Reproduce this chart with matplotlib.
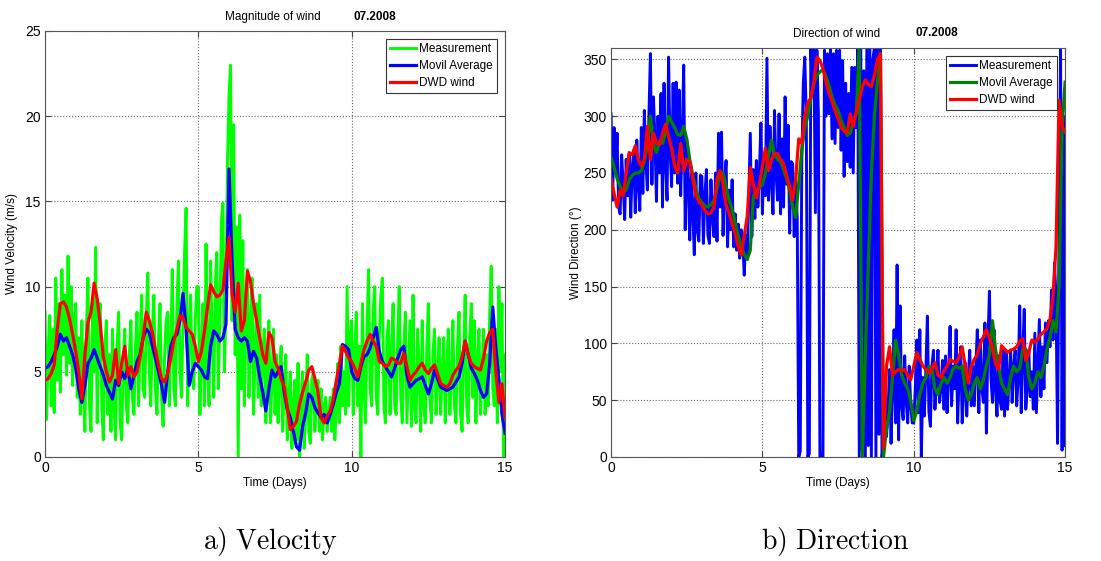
import numpy as np
import matplotlib.pyplot as plt

plt.rcParams['font.family'] = ['Liberation Sans', 'DejaVu Sans']
plt.rcParams['mathtext.fontset'] = 'cm'

# time axes: measurements every 0.05 day, averages every 0.1 day
t_meas = np.linspace(0, 15, 301)
t = np.linspace(0, 15, 151)

# ---------------- velocity (m/s) ----------------
vel_meas = [8.5, 2.2, 6.0, 8.3, 3.0, 7.5, 2.6, 10.5, 4.5, 9.0, 3.8, 11.0, 6.0, 9.5, 4.8, 11.8, 5.5, 10.0, 4.2, 8.0,
            9.0, 3.5, 7.0, 2.5, 8.0, 4.0, 1.5, 7.5, 10.5, 3.0, 1.5, 9.0, 5.0, 12.3, 2.0, 8.0, 9.0, 3.0, 1.0, 6.5,
            8.0, 2.5, 6.0, 1.5, 7.5, 3.0, 1.0, 6.5, 8.5, 2.0, 1.0, 5.5, 7.5, 3.0, 2.0, 6.0, 8.0, 3.5, 2.5, 6.5,
            8.5, 3.0, 6.5, 9.5, 4.0, 3.5, 8.0, 10.8, 5.0, 3.0, 7.5, 9.5, 4.0, 2.5, 7.0, 9.0, 3.5, 1.8, 6.0, 8.0,
            8.5, 3.0, 6.5, 11.0, 4.0, 3.0, 9.0, 11.5, 5.0, 3.5, 8.0, 12.0, 14.6, 3.0, 7.0, 9.5, 4.5, 4.0, 8.0, 10.0,
            10.0, 2.5, 6.0, 9.0, 3.0, 12.5, 5.0, 3.0, 11.5, 7.0, 3.5, 10.0, 12.0, 4.0, 8.0, 13.8, 14.9, 5.0, 9.0, 17.5,
            21.2, 23.0, 8.0, 19.5, 6.0, 13.5, 0.0, 14.2, 4.0, 12.7, 3.0, 8.0, 11.0, 3.5, 7.5, 10.5, 2.5, 6.0, 9.0, 3.5,
            9.5, 3.0, 6.0, 7.5, 2.0, 5.5, 8.0, 2.0, 4.5, 7.5, 2.5, 6.0, 2.0, 5.0, 6.5, 1.5, 4.0, 6.0, 1.0, 3.5,
            5.0, 0.5, 3.0, 4.5, 1.0, 5.5, 0.0, 3.0, 5.0, 0.5, 2.5, 6.0, 1.5, 0.8, 4.5, 5.0, 1.5, 3.5, 4.5, 1.5,
            4.0, 1.0, 3.0, 3.5, 1.5, 2.5, 3.5, 1.5, 4.0, 1.0, 3.0, 5.5, 2.0, 6.5, 3.0, 5.0, 2.5, 10.0, 3.0, 7.0,
            8.0, 2.5, 6.0, 8.5, 3.0, 6.5, 0.0, 9.0, 4.0, 2.0, 7.5, 11.0, 4.0, 3.0, 8.5, 10.0, 3.5, 2.5, 7.0, 9.5,
            10.5, 3.0, 2.0, 7.0, 8.0, 2.5, 6.0, 9.0, 3.0, 2.5, 7.0, 10.0, 3.5, 2.0, 6.5, 8.5, 2.0, 5.0, 8.0, 1.8,
            9.5, 3.0, 2.0, 7.5, 5.0, 1.5, 8.0, 3.0, 2.0, 6.5, 9.0, 3.5, 2.0, 6.0, 7.5, 2.5, 4.5, 7.0, 2.5, 5.0,
            7.0, 2.0, 5.0, 7.5, 2.5, 4.5, 8.0, 3.0, 2.0, 6.5, 8.5, 2.5, 1.5, 6.0, 9.5, 3.0, 2.0, 7.0, 9.0, 3.5,
            8.0, 2.0, 5.5, 7.5, 2.5, 5.0, 7.5, 2.5, 6.0, 3.0, 8.5, 11.2, 4.0, 3.0, 7.5, 2.0, 10.0, 5.0, 9.0, 0.0,
            6.0]

vel_avg = [5.2, 5.3, 5.6, 6.0, 6.5, 7.2, 6.8, 7.0, 6.5, 6.0,
           5.2, 4.0, 3.2, 4.2, 5.5, 5.8, 6.3, 5.8, 5.3, 4.8,
           4.2, 3.8, 3.4, 4.5, 4.2, 5.0, 4.6, 5.2, 4.0, 4.8,
           5.6, 6.0, 7.0, 7.5, 7.3, 6.5, 5.8, 5.0, 4.2, 3.2,
           5.0, 6.5, 7.0, 7.2, 8.0, 9.6, 7.5, 4.2, 5.0, 5.5,
           5.3, 5.1, 4.7, 4.6, 6.5, 7.4, 7.2, 6.8, 7.0, 7.8,
           16.9, 11.5, 7.5, 7.0, 6.8, 7.0, 6.8, 5.6, 6.2, 5.8,
           4.7, 3.8, 2.7, 4.0, 5.1, 4.7, 5.0, 5.3, 3.8, 2.8,
           2.3, 1.5, 0.6, 0.4, 1.8, 2.6, 3.7, 3.5, 2.9, 2.6,
           2.3, 2.5, 2.0, 2.5, 3.1, 3.8, 4.3, 6.6, 6.5, 6.3,
           5.0, 4.6, 4.5, 5.3, 5.9, 6.0, 6.4, 7.0, 7.6, 6.2,
           5.6, 5.3, 5.0, 4.7, 5.2, 5.8, 6.3, 6.5, 4.8, 4.1,
           4.3, 4.5, 4.6, 4.7, 4.2, 3.7, 4.3, 5.1, 4.6, 4.1,
           4.0, 3.9, 4.0, 4.1, 4.4, 4.7, 5.5, 6.8, 6.0, 5.2,
           4.9, 4.5, 3.9, 3.5, 3.7, 5.5, 8.8, 6.4, 4.6, 2.5,
           1.4]

vel_dwd = [4.5, 4.6, 4.9, 5.4, 7.5, 9.0, 9.1, 8.8, 8.1, 7.2,
           6.2, 5.0, 3.4, 6.0, 7.9, 8.5, 10.2, 9.3, 7.8, 5.9,
           5.0, 4.4, 4.8, 6.3, 4.3, 5.5, 6.5, 4.8, 5.3, 4.7,
           5.0, 5.9, 7.0, 8.5, 8.0, 7.3, 6.3, 5.4, 4.6, 4.4,
           4.9, 5.8, 6.8, 7.5, 8.3, 8.2, 7.6, 7.4, 7.2, 6.5,
           5.6, 6.2, 7.4, 8.8, 10.1, 9.7, 9.4, 9.5, 9.8, 11.5,
           12.9, 9.5, 8.5, 10.2, 7.4, 8.0, 10.9, 10.3, 9.0, 8.0,
           7.0, 6.0, 5.5, 7.3, 7.0, 5.6, 5.2, 4.6, 4.1, 2.9,
           1.6, 1.8, 2.1, 3.1, 3.8, 4.4, 5.1, 5.3, 4.6, 3.8,
           2.3, 2.0, 2.4, 2.7, 3.4, 4.5, 5.5, 6.5, 6.2, 5.8,
           5.6, 5.2, 4.7, 5.5, 6.3, 6.8, 7.2, 6.8, 6.5, 5.6,
           5.5, 5.3, 5.4, 5.8, 5.7, 5.5, 5.5, 6.1, 5.3, 4.5,
           4.8, 5.0, 5.3, 5.5, 5.1, 4.9, 5.2, 5.4, 4.9, 4.3,
           4.2, 4.1, 4.3, 4.8, 5.1, 5.3, 5.9, 6.8, 6.0, 5.5,
           5.3, 5.2, 5.1, 5.8, 6.8, 7.3, 7.5, 5.0, 3.2, 4.3,
           2.3]

# ---------------- direction (deg) ----------------
dir_meas = [302, 226, 290, 250, 285, 220, 214, 266, 240, 209, 262, 230, 267, 211, 255, 270, 215, 279, 240, 217,
            290, 232, 305, 260, 235, 300, 355, 240, 317, 280, 225, 300, 250, 320, 220, 329, 260, 226, 352, 270,
            238, 329, 250, 330, 241, 323, 230, 280, 345, 200, 279, 240, 191, 255, 215, 178, 250, 200, 190, 248,
            247, 188, 230, 253, 195, 188, 244, 210, 194, 250, 190, 285, 220, 286, 195, 240, 261, 185, 235, 200,
            244, 185, 214, 182, 205, 175, 200, 190, 160, 195, 174, 230, 285, 194, 253, 210, 261, 220, 250, 294,
            214, 264, 230, 351, 226, 291, 240, 214, 305, 250, 226, 302, 214, 280, 220, 317, 240, 292, 197, 260,
            258, 194, 244, 210, 0, 5, 258, 329, 352, 300, 0, 3, 360, 320, 360, 215, 358, 300, 0, 2,
            0, 358, 300, 355, 302, 360, 280, 355, 276, 358, 290, 358, 270, 349, 247, 329, 260, 320, 255, 343,
            250, 343, 290, 360, 0, 360, 5, 340, 0, 360, 10, 360, 0, 350, 360, 0, 360, 20, 360, 0,
            12, 53, 18, 40, 77, 12, 60, 112, 30, 169, 15, 133, 45, 33, 89, 50, 30, 80, 45, 30,
            30, 60, 103, 39, 112, 0, 70, 36, 77, 124, 40, 27, 80, 94, 42, 70, 94, 48, 60, 85,
            42, 89, 39, 70, 115, 45, 80, 60, 112, 30, 75, 97, 30, 60, 83, 36, 70, 94, 45, 80,
            45, 80, 112, 39, 103, 60, 48, 118, 21, 100, 146, 70, 48, 112, 60, 36, 89, 50, 42, 94,
            36, 94, 42, 70, 94, 48, 80, 94, 45, 70, 133, 39, 90, 130, 42, 60, 94, 53, 75, 42,
            109, 39, 80, 121, 53, 97, 60, 118, 83, 120, 97, 147, 103, 171, 140, 12, 200, 360, 6, 300,
            10]

dir_avg = [264, 255, 245, 238, 233, 235, 244, 248, 250, 250,
           252, 260, 275, 300, 275, 268, 278, 276, 285, 300,
           295, 290, 284, 283, 291, 280, 262, 248, 236, 228,
           224, 221, 220, 222, 226, 236, 250, 250, 238, 226,
           218, 206, 195, 185, 178, 174, 182, 229, 235, 237,
           240, 250, 265, 279, 266, 262, 260, 253, 245, 235,
           220, 211, 240, 270, 290, 300, 315, 329, 336, 339,
           341, 335, 327, 317, 310, 305, 296, 290, 283, 285,
           295, 302, 360, 0, 90, 170, 250, 300, 330, 355,
           0, 25, 40, 70, 103, 90, 72, 65, 60, 50,
           32, 40, 55, 65, 70, 80, 78, 60, 55, 65,
           70, 65, 70, 78, 80, 78, 80, 60, 50, 55,
           65, 70, 60, 68, 80, 90, 120, 95, 80, 65,
           60, 55, 70, 80, 75, 78, 95, 95, 70, 60,
           65, 75, 70, 80, 95, 105, 120, 110, 150, 290,
           330]

dir_dwd = [245, 232, 220, 235, 230, 250, 268, 266, 274, 262,
           256, 262, 291, 262, 285, 276, 275, 285, 293, 282,
           272, 256, 250, 276, 252, 262, 260, 245, 230, 225,
           222, 217, 214, 215, 220, 245, 252, 240, 222, 215,
           205, 197, 185, 178, 195, 212, 255, 240, 228, 240,
           256, 272, 252, 262, 267, 267, 262, 258, 248, 238,
           226, 245, 280, 276, 300, 312, 316, 330, 352, 349,
           342, 330, 320, 313, 305, 298, 290, 287, 285, 302,
           291, 304, 315, 326, 332, 328, 326, 336, 350, 355,
           8, 80, 97, 72, 75, 77, 76, 77, 72, 68,
           80, 92, 86, 80, 77, 74, 78, 83, 72, 70,
           76, 80, 86, 84, 83, 88, 97, 80, 65, 80,
           86, 90, 100, 106, 112, 105, 96, 82, 77, 98,
           95, 92, 94, 95, 97, 102, 104, 85, 92, 103,
           101, 104, 108, 110, 113, 121, 141, 185, 314, 291,
           286]

fig = plt.figure(figsize=(11.01, 5.61), dpi=100)
ax1 = fig.add_axes([0.0409, 0.1854, 0.4178, 0.7594])
ax2 = fig.add_axes([0.555, 0.1854, 0.4124, 0.729])

#--- a) velocity
ax1.plot(t_meas, vel_meas, color='#00ff00', lw=2.1, label='Measurement')
ax1.plot(t, vel_avg, color='#0000ff', lw=2.3, label='Movil Average')
ax1.plot(t, vel_dwd, color='#ff0000', lw=2.3, label='DWD wind')
ax1.set_xlim(0, 15)
ax1.set_ylim(0, 25)
ax1.set_yticks([0, 5, 10, 15, 20, 25])
ax1.set_ylabel('Wind Velocity (m/s)', fontsize=8.5)
ax1.yaxis.set_label_coords(-0.059, 0.5)

#--- b) direction
ax2.plot(t_meas, dir_meas, color='#0000ff', lw=2.1, label='Measurement')
ax2.plot(t, dir_avg, color='#008000', lw=2.3, label='Movil Average')
ax2.plot(t, dir_dwd, color='#ff0000', lw=2.3, label='DWD wind')
ax2.set_xlim(0, 15)
ax2.set_ylim(0, 360)
ax2.set_yticks(range(0, 351, 50))
ax2.set_ylabel('Wind Direction (°)', fontsize=8.5)
ax2.yaxis.set_label_coords(-0.064, 0.5)

for ax in (ax1, ax2):
    ax.set_xticks([0, 5, 10, 15])
    ax.set_xlabel('Time (Days)', fontsize=8.5, labelpad=1)
    ax.grid(True, linestyle=':', color='#666666', lw=0.8)
    ax.tick_params(direction='in', length=4, top=True, right=True,
                   labelsize=10, pad=3, color='#444444')
    for s in ax.spines.values():
        s.set_color('#555555')
    leg = ax.legend(loc='upper right', fontsize=8.5, handlelength=2.2,
                    handletextpad=0.25, borderpad=0.35, labelspacing=0.42,
                    fancybox=False, framealpha=1, borderaxespad=0.7)
    leg.get_frame().set_edgecolor('#333333')
    leg.get_frame().set_linewidth(0.8)

# titles (MATLAB style, two pieces)
fig.text(273/1101, 1 - 17/561, 'Magnitude of wind', ha='center', va='center', fontsize=8.5)
fig.text(375/1101, 1 - 17/561, '07.2008', ha='center', va='center', fontsize=8.5, weight='bold')
fig.text(837/1101, 1 - 34/561, 'Direction of wind', ha='center', va='center', fontsize=8.5)
fig.text(937/1101, 1 - 33/561, '07.2008', ha='center', va='center', fontsize=8.5, weight='bold')

# sub-captions
fig.text(270/1101, 1 - 541/561, r'$\mathrm{a)\ Velocity}$', ha='center', va='center', fontsize=20)
fig.text(835/1101, 1 - 541/561, r'$\mathrm{b)\ Direction}$', ha='center', va='center', fontsize=20)

fig.savefig('out.png', dpi=100)
